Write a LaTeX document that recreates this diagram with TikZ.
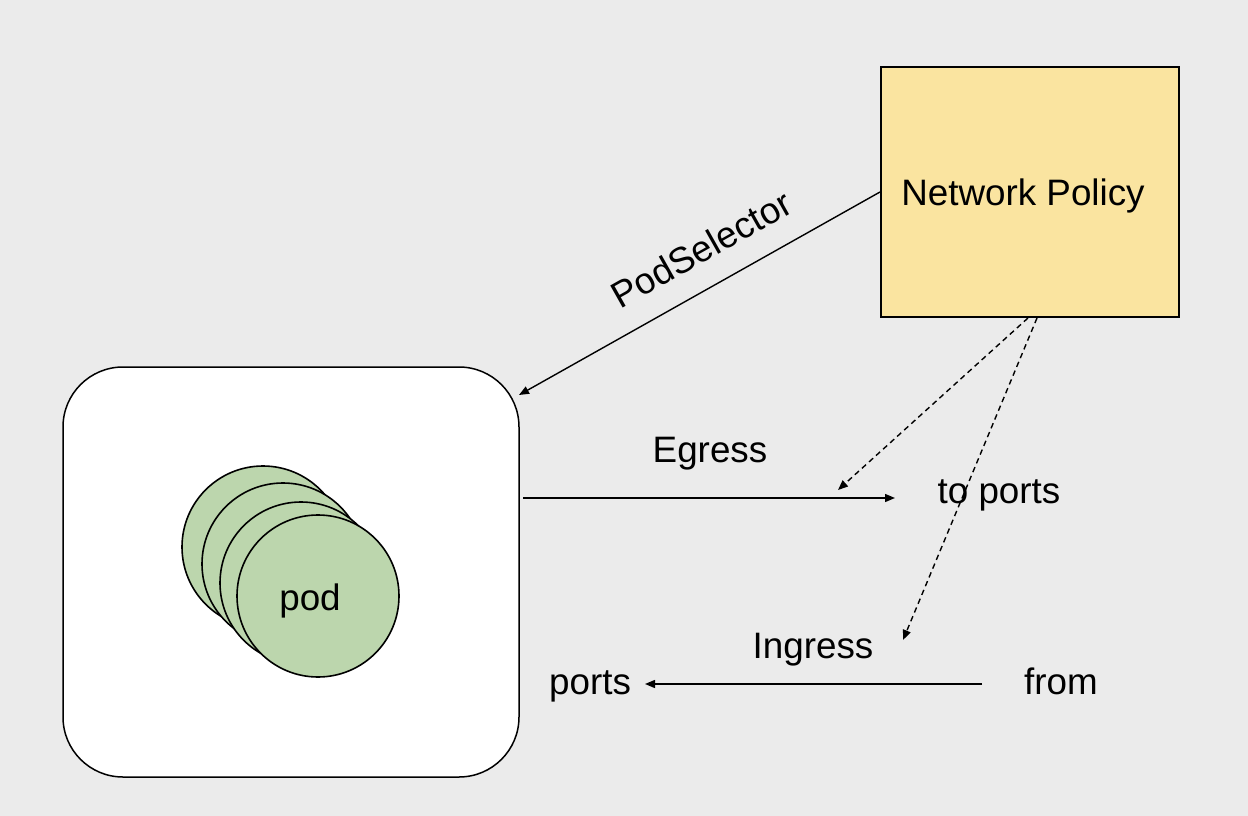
\documentclass[tikz,border=0pt]{standalone}
\usepackage{fontspec}
\setmainfont{Liberation Sans}
\usetikzlibrary{arrows.meta}
\definecolor{bgc}{HTML}{EBEBEB}
\definecolor{npyellow}{HTML}{FAE4A0}
\definecolor{podgreen}{HTML}{BCD6AD}
\begin{document}
\begin{tikzpicture}[x=1pt,y=-1pt,
  lbl/.style={font=\fontsize{36.8}{44}\selectfont, inner sep=0pt, anchor=base},
  podc/.style={circle, draw=black, line width=1.6pt, fill=podgreen, minimum size=162pt, inner sep=0pt},
  conn/.style={line width=1.4pt, -{Triangle[length=10pt,width=8pt]}},
  dconn/.style={conn, dash pattern=on 5.5pt off 4pt}]
\fill[bgc] (0,0) rectangle (1248,816);
\useasboundingbox (0,0) rectangle (1248,816);

% Network Policy box
\node[draw=black, line width=2pt, fill=npyellow, minimum width=298pt, minimum height=250pt, inner sep=0pt] (np) at (1029.5,192) {};
\node[lbl] (nptext) at (1023,205) {Network Policy};

% pod container
\draw[fill=white, line width=1.5pt, rounded corners=60pt] (63,367) rectangle (519,777);
\node[minimum width=456pt, minimum height=410pt, inner sep=0pt] (podbox) at (291,572) {};

% pods
\node[podc] (pod1) at (263,547) {};
\node[podc] (pod2) at (283,564) {};
\node[podc] (pod3) at (301,583) {};
\node[podc] (pod4) at (318,596) {};
\node[lbl] (podtext) at (310,610) {pod};

% labels
\node[font=\fontsize{36.8}{44}\selectfont, inner sep=0pt, rotate=29.4] (podsel) at (701,249) {PodSelector};
\node[lbl] (egress) at (710,462) {Egress};
\node[lbl] (toports) at (999,503) {to ports};
\node[lbl] (ingress) at (813,658) {Ingress};
\node[lbl] (ports) at (590,694) {ports};
\node[lbl] (from) at (1061,694) {from};

% connector end points
\coordinate (selstart) at (880,192);
\coordinate (selend) at (519,395);
\coordinate (egstart) at (523,498);
\coordinate (egend) at (895,498);
\coordinate (d1start) at (1028,318);
\coordinate (d1end) at (838,490);
\coordinate (d2start) at (1037,318);
\coordinate (d2end) at (903,640);
\coordinate (instart) at (982,684);
\coordinate (inend) at (645,684);

% connectors
\draw[conn] (selstart) -- (selend);
\draw[conn] (egstart) -- (egend);
\draw[dconn] (d1start) -- (d1end);
\draw[dconn] (d2start) -- (d2end);
\draw[conn] (instart) -- (inend);
\end{tikzpicture}
\end{document}
